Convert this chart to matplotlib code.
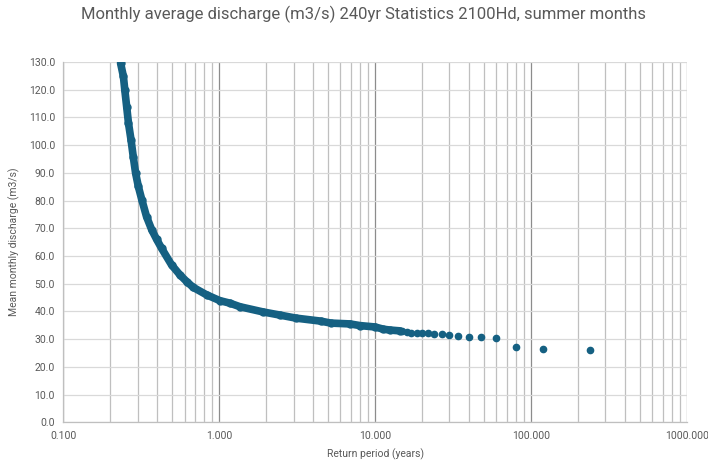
import numpy as np
import matplotlib.pyplot as plt
from matplotlib.ticker import FixedLocator, FuncFormatter, NullFormatter

plt.rcParams['font.family'] = ['Roboto', 'DejaVu Sans']

# dense part of the curve (return period in years, discharge m3/s)
curve_T = [0.233, 0.243, 0.248, 0.255, 0.262, 0.272, 0.281, 0.291, 0.303, 0.319,
           0.342, 0.369, 0.397, 0.427, 0.495, 0.560, 0.618, 0.681, 0.830, 1.01,
           1.17, 1.36, 1.92, 2.45, 3.1, 4.5, 5.2, 6.9, 8.0, 10.0,
           11.3, 12.4, 14.4]
curve_Q = [129.6, 124.8, 120.0, 113.9, 107.9, 101.9, 95.9, 89.9, 85.1, 80.3,
           74.2, 69.5, 66.0, 62.8, 56.8, 53.2, 50.8, 48.7, 46.0, 43.9,
           43.0, 41.7, 39.8, 38.7, 37.6, 36.5, 35.8, 35.5, 34.9, 34.4,
           33.6, 33.3, 33.0]

# largest events, plotted as single points
tail_T = [240, 120, 80, 60, 48, 40, 34.3, 30, 26.7, 24, 21.8, 20, 18.5, 17.1, 16.0, 15.0]
tail_Q = [26.2, 26.4, 27.2, 30.5, 30.8, 30.8, 31.0, 31.5, 31.8, 31.9, 32.1, 32.1, 32.1,
          32.4, 32.6, 32.8]

col = '#156082'
txt = '#595959'

fig = plt.figure(figsize=(7.08, 4.65), dpi=100)
ax = fig.add_axes([0.0894, 0.0918, 0.8806, 0.7749])

ax.plot(curve_T, curve_Q, '-o', color=col, lw=5.5, ms=5, solid_capstyle='round', zorder=3)
ax.plot(tail_T, tail_Q, 'o', color=col, ms=4.5, zorder=3)

ax.set_xscale('log')
ax.set_xlim(0.1, 1000)
ax.set_ylim(0, 130)
ax.set_yticks(np.arange(0, 131, 10))
ax.yaxis.set_major_formatter(FuncFormatter(lambda v, p: f'{v:.1f}'))
ax.xaxis.set_major_locator(FixedLocator([0.1, 1, 10, 100, 1000]))
ax.xaxis.set_major_formatter(FuncFormatter(lambda v, p: f'{v:.3f}'))
minors = [m * 10.0 ** e for e in range(-1, 3) for m in range(2, 10)]
ax.xaxis.set_minor_locator(FixedLocator(minors))
ax.xaxis.set_minor_formatter(NullFormatter())

ax.grid(axis='y', which='major', color='#d9d9d9', lw=0.9)
ax.grid(axis='x', which='minor', color='#bfbfbf', lw=0.9)
ax.grid(axis='x', which='major', color='#8c8c8c', lw=0.9)
ax.set_axisbelow(True)
for s in ['top', 'right']:
    ax.spines[s].set_visible(False)
for s in ['left', 'bottom']:
    ax.spines[s].set_color('#bfbfbf')
    ax.spines[s].set_linewidth(0.9)
ax.tick_params(which='both', length=0, labelsize=7.5, colors=txt, pad=6)

ax.set_xlabel('Return period (years)', fontsize=7.5, color=txt, labelpad=6)
ax.set_ylabel('Mean monthly discharge (m3/s)', fontsize=7.5, color=txt, labelpad=6)
fig.text(0.514, 0.97, 'Monthly average discharge (m3/s) 240yr Statistics 2100Hd, summer months',
         ha='center', va='center', fontsize=12, color=txt)

fig.savefig('out.png', dpi=100)
